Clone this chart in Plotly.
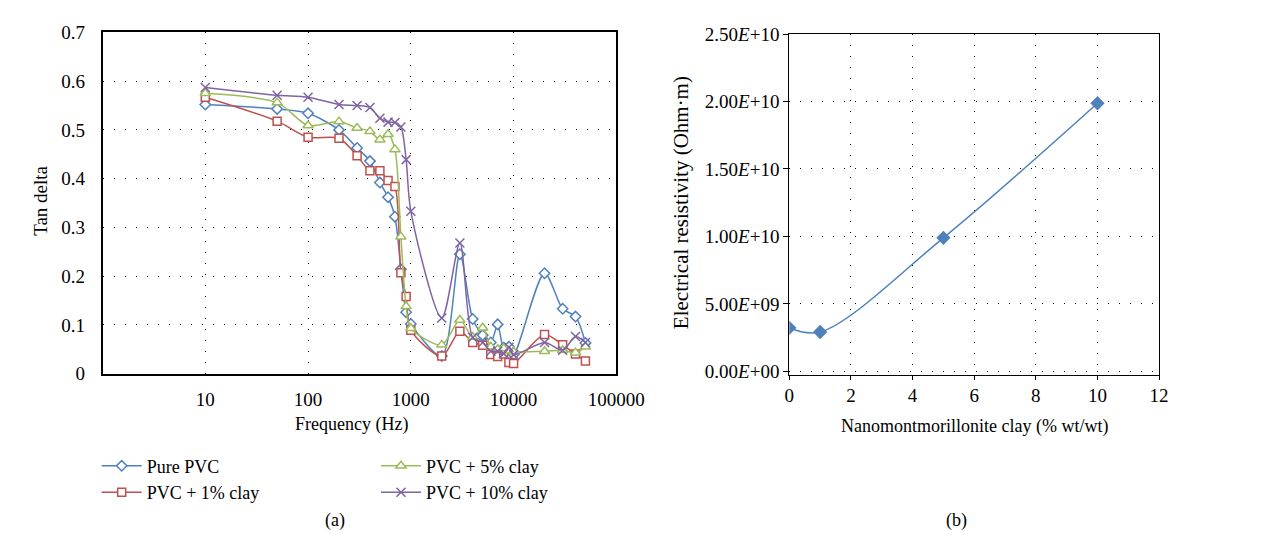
import plotly.graph_objects as go

# ---------------- data ----------------
freq = [10, 50, 100, 200, 300, 400, 500, 600, 700, 800, 900, 1000,
        2000, 3000, 4000, 5000, 6000, 7000, 8000, 9000, 10000,
        20000, 30000, 40000, 50000]

pure_pvc = [0.552, 0.543, 0.534, 0.500, 0.463, 0.436, 0.392, 0.362, 0.322, 0.214, 0.126, 0.102,
            0.036, 0.245, 0.112, 0.079, 0.064, 0.101, 0.053, 0.055, 0.039,
            0.206, 0.133, 0.117, 0.063]
pvc_1 = [0.567, 0.518, 0.485, 0.483, 0.447, 0.416, 0.416, 0.396, 0.384, 0.207, 0.158, 0.089,
         0.036, 0.087, 0.064, 0.058, 0.039, 0.035, 0.040, 0.023, 0.021,
         0.080, 0.059, 0.040, 0.026]
pvc_5 = [0.575, 0.556, 0.509, 0.517, 0.504, 0.497, 0.480, 0.491, 0.460, 0.281, 0.138, 0.093,
         0.059, 0.110, 0.075, 0.094, 0.055, 0.050, 0.052, 0.047, 0.045,
         0.046, 0.048, 0.043, 0.055]
pvc_10 = [0.587, 0.571, 0.567, 0.552, 0.550, 0.546, 0.524, 0.516, 0.515, 0.506, 0.439, 0.333,
          0.114, 0.268, 0.074, 0.064, 0.046, 0.046, 0.041, 0.054, 0.039,
          0.064, 0.048, 0.076, 0.064]

series_names = ["Pure PVC", "PVC + 1% clay", "PVC + 5% clay", "PVC + 10% clay"]

clay = [0, 1, 5, 10]
resistivity = [3.23e9, 2.92e9, 9.90e9, 1.987e10]

x_ticks_a = [10, 100, 1000, 10000, 100000]
y_ticks_a = [0, 0.1, 0.2, 0.3, 0.4, 0.5, 0.6, 0.7]
y_ticks_b = [0, 5e9, 1e10, 1.5e10, 2e10, 2.5e10]
y_ticktext_b = ["0.00<i>E</i>+00", "5.00<i>E</i>+09", "1.00<i>E</i>+10",
                "1.50<i>E</i>+10", "2.00<i>E</i>+10", "2.50<i>E</i>+10"]

# ---------------- style ----------------
FONT = "Liberation Serif"
W, H = 1268, 540
BLUE, RED, GREEN, PURPLE = "#4F81BD", "#C0504D", "#9BBB59", "#8064A2"
TICK_SIZE = 19
TEXT_SIZE = 18

def px_x(p):
    return p / W

def px_y(p):
    return 1 - p / H

fig = go.Figure()

styles = [
    (pure_pvc, BLUE, "diamond", 8, "legend"),
    (pvc_1, RED, "square", 8, "legend"),
    (pvc_5, GREEN, "triangle-up", 9, "legend2"),
    (pvc_10, PURPLE, "x-thin", 9, "legend2"),
]
for (vals, col, sym, sz, leg), name in zip(styles, series_names):
    fig.add_trace(go.Scatter(
        x=freq, y=vals, name=name, mode="lines+markers",
        line=dict(color=col, width=1.5, shape="spline", smoothing=0.8),
        marker=dict(symbol=sym, size=sz, color="white",
                    line=dict(color=col, width=1.5)),
        xaxis="x", yaxis="y", legend=leg,
    ))

fig.add_trace(go.Scatter(
    x=clay, y=resistivity, mode="lines+markers", showlegend=False,
    line=dict(color=BLUE, width=1.5, shape="spline", smoothing=1.0),
    marker=dict(symbol="diamond", size=11, color=BLUE),
    xaxis="x2", yaxis="y2",
))

grid = dict(showgrid=True, gridcolor="black", gridwidth=1, griddash="1px,10px")
tickfont = dict(family=FONT, size=TICK_SIZE, color="black")

fig.update_layout(
    width=W, height=H,
    margin=dict(l=0, r=0, t=0, b=0),
    paper_bgcolor="white", plot_bgcolor="white",
    font=dict(family=FONT, size=TEXT_SIZE, color="black"),
    xaxis=dict(
        type="log", range=[0, 5], domain=[px_x(92), px_x(620)],
        tickvals=x_ticks_a, ticktext=[str(v) for v in x_ticks_a],
        tickfont=tickfont, ticks="", ticklabelstandoff=8,
        showline=True, linecolor="black", linewidth=1.5, mirror=True,
        zeroline=False, anchor="y", **grid,
    ),
    yaxis=dict(
        range=[0, 0.7], domain=[px_y(370), px_y(15)],
        tickvals=y_ticks_a, ticktext=["0", "0.1", "0.2", "0.3", "0.4", "0.5", "0.6", "0.7"],
        tickfont=tickfont, ticks="", ticklabelstandoff=12,
        showline=True, linecolor="black", linewidth=1.5, mirror=True,
        zeroline=False, anchor="x", **grid,
    ),
    xaxis2=dict(
        range=[0, 12], domain=[px_x(797.7), px_x(1177.7)],
        tickvals=[0, 2, 4, 6, 8, 10, 12], tickfont=tickfont,
        ticks="outside", ticklen=4, tickcolor="black",
        showline=True, linecolor="black", linewidth=1.2, mirror=True,
        zeroline=False, anchor="y2", **grid,
    ),
    yaxis2=dict(
        range=[-2.35e8, 2.5e10], domain=[px_y(371), px_y(16.7)],
        tickvals=y_ticks_b, ticktext=y_ticktext_b, tickfont=tickfont,
        ticks="outside", ticklen=5, tickcolor="black",
        showline=True, linecolor="black", linewidth=1.2, mirror=True,
        zeroline=False, anchor="x2", **grid,
    ),
    legend=dict(
        x=px_x(86), y=px_y(447), xanchor="left", yanchor="top",
        orientation="v", font=dict(family=FONT, size=TEXT_SIZE),
        bgcolor="rgba(0,0,0,0)", tracegroupgap=0, itemwidth=40,
    ),
    legend2=dict(
        x=px_x(373), y=px_y(447), xanchor="left", yanchor="top",
        orientation="v", font=dict(family=FONT, size=TEXT_SIZE),
        bgcolor="rgba(0,0,0,0)", tracegroupgap=0, itemwidth=40,
    ),
)

annots = [
    dict(text="Tan delta", x=px_x(28), y=px_y(190), textangle=-90, size=19),
    dict(text="Frequency (Hz)", x=px_x(348), y=px_y(423), size=18),
    dict(text="Electrical resistivity (Ohm·m)", x=px_x(686), y=px_y(192), textangle=-90, size=21),
    dict(text="Nanomontmorillonite clay (% wt/wt)", x=px_x(988), y=px_y(425), size=18),
    dict(text="(a)", x=px_x(331), y=px_y(523), size=18),
    dict(text="(b)", x=px_x(970), y=px_y(523), size=18),
]
for a in annots:
    sz = a.pop("size")
    fig.add_annotation(xref="paper", yref="paper", showarrow=False,
                       xanchor="center", yanchor="middle",
                       font=dict(family=FONT, size=sz, color="black"), **a)

fig.write_html("out.html")
